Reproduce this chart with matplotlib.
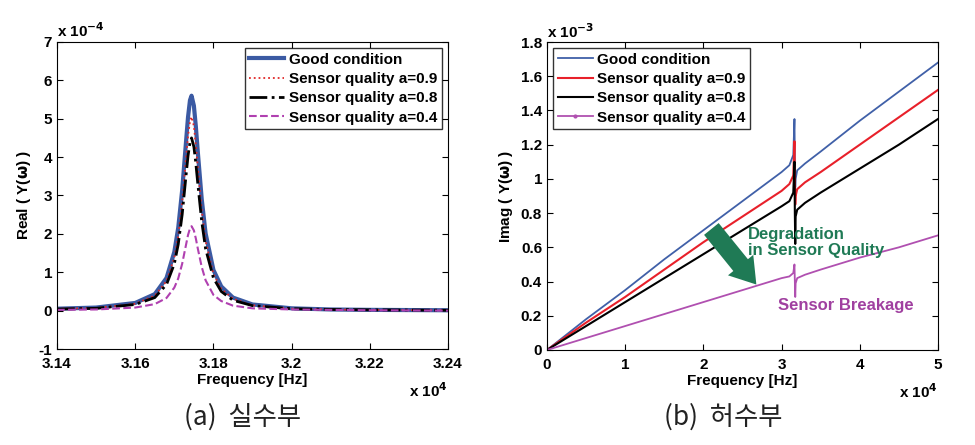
import matplotlib.pyplot as plt
from matplotlib.ticker import FixedLocator

plt.rcParams['font.family'] = ['Liberation Sans', 'DejaVu Sans']
plt.rcParams['font.weight'] = 'bold'

# (a) real part, x in units of 1e4 Hz, y in units of 1e-4
freq_a = [3.14, 3.15, 3.16, 3.165, 3.168, 3.170, 3.171, 3.172, 3.173, 3.1735, 3.174,
          3.1744, 3.175, 3.1755, 3.176, 3.177, 3.178, 3.180, 3.182, 3.185, 3.19,
          3.20, 3.21, 3.22, 3.24]
real_good = [0.05, 0.08, 0.2, 0.43, 0.85, 1.53, 2.16, 3.13, 4.41, 5.04, 5.48,
             5.6, 5.34, 4.8, 4.14, 2.91, 2.01, 1.06, 0.63, 0.34, 0.16,
             0.06, 0.03, 0.02, 0.01]
real_09 = [0.05, 0.07, 0.18, 0.39, 0.77, 1.38, 1.94, 2.82, 3.97, 4.54, 4.93,
           5.05, 4.81, 4.32, 3.73, 2.62, 1.81, 0.95, 0.57, 0.31, 0.14,
           0.05, 0.03, 0.02, 0.01]
real_08 = [0.04, 0.06, 0.16, 0.34, 0.68, 1.22, 1.73, 2.5, 3.53, 4.03, 4.38,
           4.5, 4.27, 3.84, 3.31, 2.33, 1.61, 0.85, 0.5, 0.27, 0.13,
           0.05, 0.03, 0.02, 0.01]
real_04 = [0.02, 0.03, 0.08, 0.17, 0.33, 0.6, 0.84, 1.22, 1.72, 1.97, 2.14,
           2.2, 2.09, 1.88, 1.62, 1.14, 0.79, 0.41, 0.25, 0.13, 0.06,
           0.03, 0.02, 0.01, 0.0]

# (b) imaginary part, x in units of 1e4 Hz, y in units of 1e-3
freq_b = [0, 0.5, 1, 1.5, 2, 2.5, 3, 3.1, 3.15, 3.165, 3.17, 3.175, 3.18,
          3.2, 3.3, 3.5, 4, 4.5, 5]
imag_good = [0.0, 0.18, 0.35, 0.53, 0.70, 0.87, 1.04, 1.08, 1.14, 1.35, 1.1, 0.95, 1.0,
             1.05, 1.09, 1.16, 1.34, 1.51, 1.68]
imag_09 = [0.0, 0.16, 0.31, 0.47, 0.63, 0.78, 0.93, 0.97, 1.02, 1.22, 1.0, 0.85, 0.9,
           0.94, 0.98, 1.04, 1.2, 1.36, 1.52]
imag_08 = [0.0, 0.14, 0.28, 0.42, 0.56, 0.70, 0.84, 0.87, 0.92, 1.1, 0.8, 0.62, 0.78,
           0.82, 0.86, 0.92, 1.06, 1.2, 1.35]
imag_04 = [0.0, 0.07, 0.14, 0.21, 0.28, 0.35, 0.42, 0.43, 0.45, 0.5, 0.4, 0.31, 0.39,
           0.42, 0.44, 0.47, 0.54, 0.6, 0.67]

labels = ['Good condition', 'Sensor quality a=0.9', 'Sensor quality a=0.8', 'Sensor quality a=0.4']

fig = plt.figure(figsize=(9.75, 4.45), dpi=100)
ax1 = fig.add_axes([0.0585, 0.2157, 0.401, 0.69])
ax2 = fig.add_axes([0.561, 0.2135, 0.401, 0.692])

for ax in (ax1, ax2):
    ax.tick_params(direction='in', top=True, right=True, labelsize=11, length=4, width=0.8)
    ax.tick_params(axis='x', pad=6)

# left panel
ax1.plot(freq_a, real_good, color='#3b5aa3', lw=3, label=labels[0])
ax1.plot(freq_a, real_09, color='#e02828', lw=1.3, ls=':', label=labels[1])
ax1.plot(freq_a, real_08, color='black', lw=2, ls='-.', label=labels[2])
ax1.plot(freq_a, real_04, color='#b040b0', lw=1.5, ls='--', label=labels[3])
ax1.set_xlim(3.14, 3.24)
ax1.set_ylim(-1, 7)
ax1.xaxis.set_major_locator(FixedLocator([3.14, 3.16, 3.18, 3.2, 3.22, 3.24]))
ax1.set_xticklabels(['3.14', '3.16', '3.18', '3.2', '3.22', '3.24'], fontweight='bold')
ax1.set_yticks(range(-1, 8))
ax1.set_yticklabels([str(v) for v in range(-1, 8)], fontweight='bold')
ax1.set_xlabel('Frequency [Hz]', fontsize=11, fontweight='bold', labelpad=1)
ax1.set_ylabel(r'Real ( Y($\mathbf{\omega}$) )', fontsize=11, fontweight='bold', labelpad=4)
ax1.text(0.0, 1.005, r'x 10$^{\mathbf{-4}}$', transform=ax1.transAxes, fontsize=11,
         fontweight='bold', va='bottom', ha='left')
ax1.text(1.0, -0.105, r'x 10$^{\mathbf{4}}$', transform=ax1.transAxes, fontsize=11,
         fontweight='bold', va='top', ha='right')
leg1 = ax1.legend(loc='upper right', fontsize=11, frameon=True, fancybox=False,
                  edgecolor='black', handlelength=2.3, borderpad=0.3, labelspacing=0.35,
                  handletextpad=0.3, borderaxespad=0.4)
leg1.get_frame().set_linewidth(1.0)
for t in leg1.get_texts():
    t.set_fontweight('bold')

# right panel
ax2.plot(freq_b, imag_good, color='#4060a8', lw=1.3, label=labels[0])
ax2.plot(freq_b, imag_09, color='#e8202a', lw=1.5, label=labels[1])
ax2.plot(freq_b, imag_08, color='black', lw=1.5, label=labels[2])
ax2.plot(freq_b, imag_04, color='#b050b0', lw=1.3, marker='.', markersize=4,
         markevery=[0], label=labels[3])
ax2.set_xlim(0, 5)
ax2.set_ylim(0, 1.8)
ax2.set_xticks(range(0, 6))
ax2.set_xticklabels([str(v) for v in range(0, 6)], fontweight='bold')
yt = [0, 0.2, 0.4, 0.6, 0.8, 1, 1.2, 1.4, 1.6, 1.8]
ax2.set_yticks(yt)
ax2.set_yticklabels(['0', '0.2', '0.4', '0.6', '0.8', '1', '1.2', '1.4', '1.6', '1.8'],
                    fontweight='bold')
ax2.set_xlabel('Frequency [Hz]', fontsize=11, fontweight='bold', labelpad=1)
ax2.set_ylabel(r'Imag ( Y($\mathbf{\omega}$) )', fontsize=11, fontweight='bold', labelpad=4)
ax2.text(0.0, 1.005, r'x 10$^{\mathbf{-3}}$', transform=ax2.transAxes, fontsize=11,
         fontweight='bold', va='bottom', ha='left')
ax2.text(1.0, -0.105, r'x 10$^{\mathbf{4}}$', transform=ax2.transAxes, fontsize=11,
         fontweight='bold', va='top', ha='right')
leg2 = ax2.legend(loc='upper left', fontsize=11, frameon=True, fancybox=False,
                  edgecolor='black', handlelength=2.3, borderpad=0.3, labelspacing=0.35,
                  handletextpad=0.3, borderaxespad=0.4)
leg2.get_frame().set_linewidth(1.0)
for t in leg2.get_texts():
    t.set_fontweight('bold')

ax2.annotate('', xy=(2.7, 0.37), xytext=(2.08, 0.72),
             arrowprops=dict(arrowstyle='simple,head_length=1.0,head_width=1.3,tail_width=0.75',
                             color='#1f7a55', lw=0, mutation_scale=18))
ax2.text(2.57, 0.63, 'Degradation\nin Sensor Quality', color='#1f7a55', fontsize=12,
         fontweight='bold', va='center', ha='left', linespacing=1.1)
ax2.text(2.96, 0.26, 'Sensor Breakage', color='#a040a0', fontsize=12,
         fontweight='bold', va='center', ha='left')

fig.text(0.249, 0.062, '(a)  실수부', fontsize=19, ha='center', va='center',
         family=['Noto Sans CJK KR', 'DejaVu Sans'], fontweight='normal', color='#222222')
fig.text(0.742, 0.062, '(b)  허수부', fontsize=19, ha='center', va='center',
         family=['Noto Sans CJK KR', 'DejaVu Sans'], fontweight='normal', color='#222222')

fig.savefig('out.png', dpi=100)
